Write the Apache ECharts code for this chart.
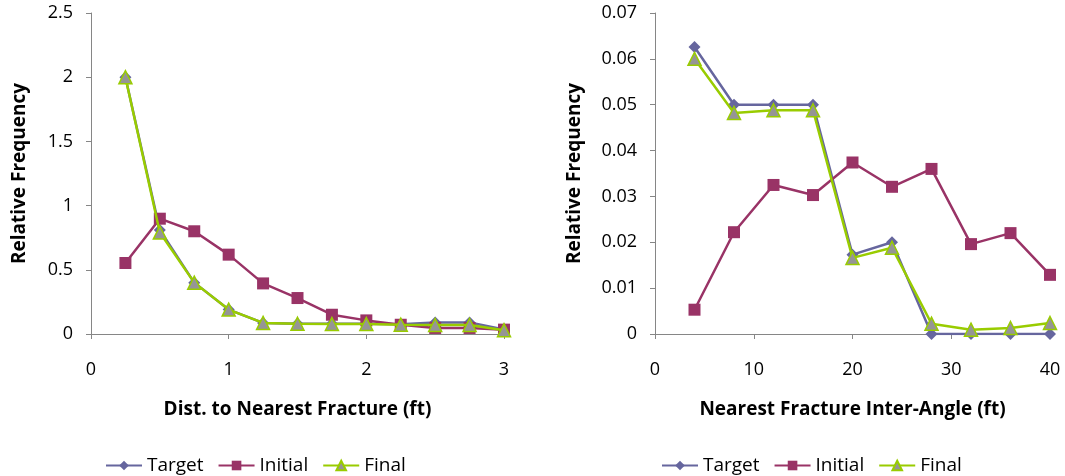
<!DOCTYPE html>
<html>
<head>
<meta charset="utf-8">
<script src="https://cdn.jsdelivr.net/npm/echarts@6/dist/echarts.min.js"></script>
<style>
  html, body { margin: 0; padding: 0; background: #fff; }
  #chart { width: 1065px; height: 476px; }
</style>
</head>
<body>
<div id="chart"></div>
<script>
// left panel: distance to nearest fracture (ft)
const distX = [0.25, 0.5, 0.75, 1, 1.25, 1.5, 1.75, 2, 2.25, 2.5, 2.75, 3];
const distTarget = [2.0, 0.81, 0.40, 0.19, 0.086, 0.08, 0.08, 0.08, 0.075, 0.09, 0.09, 0.035];
const distInitial = [0.553, 0.898, 0.80, 0.618, 0.394, 0.28, 0.15, 0.106, 0.072, 0.047, 0.047, 0.034];
const distFinal = [2.0, 0.79, 0.40, 0.19, 0.086, 0.08, 0.078, 0.078, 0.073, 0.07, 0.07, 0.03];

// right panel: nearest fracture inter-angle
const angX = [4, 8, 12, 16, 20, 24, 28, 32, 36, 40];
const angTarget = [0.0626, 0.05, 0.05, 0.05, 0.0173, 0.02, 0, 0, 0, 0];
const angInitial = [0.0053, 0.0222, 0.0325, 0.0303, 0.0374, 0.0321, 0.036, 0.0196, 0.022, 0.0129];
const angFinal = [0.060, 0.0482, 0.0488, 0.0488, 0.0166, 0.0188, 0.00225, 0.00094, 0.0013, 0.0024];

const seriesNames = ['Target', 'Initial', 'Final'];

const FONT = 'Open Sans';
const axisGray = '#868686';
const cTarget = '#66669E';
const cInitial = '#993366';
const cFinal = '#99CC00';
const cFinalFill = '#959595';

const zip = (xs, ys) => xs.map((x, i) => [x, ys[i]]);

const makeSeries = (idx, xs, t, ini, fin) => [
  {
    name: 'Target', type: 'line', xAxisIndex: idx, yAxisIndex: idx,
    data: zip(xs, t), symbol: 'diamond', symbolSize: 12,
    lineStyle: { color: cTarget, width: 2.5 },
    itemStyle: { color: cTarget },
    z: 2
  },
  {
    name: 'Initial', type: 'line', xAxisIndex: idx, yAxisIndex: idx,
    data: zip(xs, ini), symbol: 'rect', symbolSize: 12,
    lineStyle: { color: cInitial, width: 2.5 },
    itemStyle: { color: cInitial },
    z: 3
  },
  {
    name: 'Final', type: 'line', xAxisIndex: idx, yAxisIndex: idx,
    data: zip(xs, fin), symbol: 'triangle', symbolSize: 13,
    lineStyle: { color: cFinal, width: 2.5 },
    itemStyle: { color: cFinalFill, borderColor: cFinal, borderWidth: 1.5 },
    z: 4
  }
];

const xAxisBase = (idx, max, interval, name) => ({
  type: 'value', gridIndex: idx, min: 0, max: max, interval: interval,
  name: name, nameLocation: 'middle', nameGap: 66,
  nameTextStyle: { fontFamily: FONT, fontSize: 19, fontWeight: 'bold', color: '#000' },
  axisLine: { show: true, lineStyle: { color: axisGray, width: 1 } },
  axisTick: { show: true, inside: false, length: 5, lineStyle: { color: axisGray } },
  axisLabel: { fontFamily: FONT, fontSize: 18, color: '#000', margin: 27 },
  splitLine: { show: false }
});

const yAxisBase = (idx, max, interval) => ({
  type: 'value', gridIndex: idx, min: 0, max: max, interval: interval,
  name: 'Relative Frequency', nameLocation: 'middle', nameGap: idx === 0 ? 62 : 71,
  nameRotate: 90,
  nameTextStyle: { fontFamily: FONT, fontSize: 19, fontWeight: 'bold', color: '#000' },
  axisLine: { show: true, lineStyle: { color: axisGray, width: 1 } },
  axisTick: { show: true, inside: false, length: 5, lineStyle: { color: axisGray } },
  axisLabel: { fontFamily: FONT, fontSize: 18, color: '#000', margin: 18 },
  splitLine: { show: false }
});

const legendBase = (left) => ({
  data: seriesNames, left: left, top: 451, itemWidth: 36, itemHeight: 12, itemGap: 14,
  textStyle: { fontFamily: FONT, fontSize: 19, color: '#000', padding: [0, 0, 0, 0] },
  selectedMode: false
});

const chart = echarts.init(document.getElementById('chart'), null, { renderer: 'canvas' });
chart.setOption({
  animation: false,
  backgroundColor: '#fff',
  grid: [
    { left: 91, right: 561, top: 13, bottom: 142 },
    { left: 655, right: 15, top: 13, bottom: 142 }
  ],
  xAxis: [
    xAxisBase(0, 3, 1, 'Dist. to Nearest Fracture (ft)'),
    xAxisBase(1, 40, 10, 'Nearest Fracture Inter-Angle (ft)')
  ],
  yAxis: [
    yAxisBase(0, 2.5, 0.5),
    yAxisBase(1, 0.07, 0.01)
  ],
  legend: [legendBase(100), legendBase(656)],
  series: [
    ...makeSeries(0, distX, distTarget, distInitial, distFinal),
    ...makeSeries(1, angX, angTarget, angInitial, angFinal)
  ]
});
</script>
</body>
</html>
